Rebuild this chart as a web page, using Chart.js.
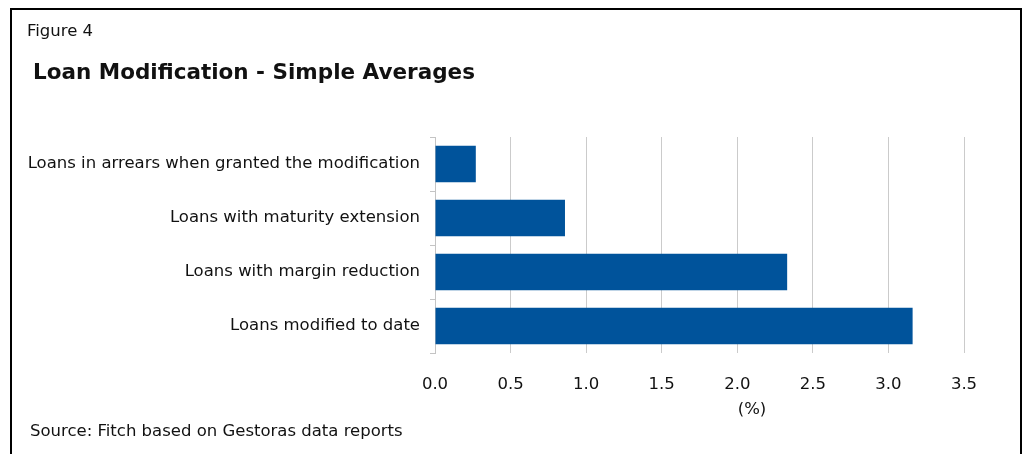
<!DOCTYPE html>
<html>
<head>
<meta charset="utf-8">
<script src="https://cdn.jsdelivr.net/npm/chart.js@4/dist/chart.umd.min.js"></script>
<style>
  html, body { margin: 0; padding: 0; background: #fff; }
  body { width: 1026px; height: 454px; position: relative; overflow: hidden;
         font-family: "DejaVu Sans", sans-serif; color: #111; }
  #frame { position: absolute; left: 10px; top: 8px; width: 1012px; height: 480px;
           border: 2px solid #000; box-sizing: border-box; }
  #fig { position: absolute; left: 27px; top: 21px; font-size: 16.5px; line-height: 20px; }
  #title { position: absolute; left: 33px; top: 59px; font-size: 21.5px; font-weight: bold; line-height: 26px; }
  #source { position: absolute; left: 30px; top: 421px; font-size: 16.5px; line-height: 20px; }
  #unit { position: absolute; left: 752px; top: 399px; font-size: 16.5px; line-height: 20px;
          transform: translateX(-50%); }
  #wrap { position: absolute; left: 0; top: 0; width: 1026px; height: 454px; }
</style>
</head>
<body>
<div id="frame"></div>
<div id="wrap"><canvas id="c" width="1026" height="454"></canvas></div>
<div id="fig">Figure 4</div>
<div id="title">Loan Modification - Simple Averages</div>
<div id="unit">(%)</div>
<div id="source">Source: Fitch based on Gestoras data reports</div>
<script>
// Categories, top to bottom
const categories = [
  "Loans in arrears when granted the modification",
  "Loans with maturity extension",
  "Loans with margin reduction",
  "Loans modified to date"
];
// Simple averages (%)
const averages = [0.27, 0.86, 2.33, 3.16];
// Value axis ticks
const xTicks = [0.0, 0.5, 1.0, 1.5, 2.0, 2.5, 3.0, 3.5];

const textColor = "#111";
const baseFont = { family: "DejaVu Sans", size: 16.5 };

new Chart(document.getElementById("c"), {
  type: "bar",
  data: {
    labels: categories,
    datasets: [{
      data: averages,
      backgroundColor: "#00539b",
      borderWidth: 0,
      barPercentage: 0.68,
      categoryPercentage: 1.0
    }]
  },
  options: {
    indexAxis: "y",
    responsive: false,
    animation: false,
    layout: { padding: { top: 137, right: 62, left: 0, bottom: 0 } },
    plugins: { legend: { display: false }, tooltip: { enabled: false } },
    scales: {
      x: {
        min: xTicks[0],
        max: xTicks[xTicks.length - 1],
        afterBuildTicks: (s) => { s.ticks = xTicks.map(v => ({ value: v })); },
        afterFit: (s) => { s.height = 101; },
        border: { display: false },
        grid: { color: "#cbcbcb", lineWidth: 1, drawTicks: false },
        ticks: { color: textColor, font: baseFont, padding: 22,
                 callback: (v) => Number(v).toFixed(1) }
      },
      y: {
        afterFit: (s) => { s.width = 435; },
        border: { display: true, color: "#c4c4c4", width: 1 },
        grid: { drawOnChartArea: false, color: "#c4c4c4", tickLength: 5 },
        ticks: { color: textColor, font: baseFont, padding: 10 }
      }
    }
  }
});
</script>
</body>
</html>
